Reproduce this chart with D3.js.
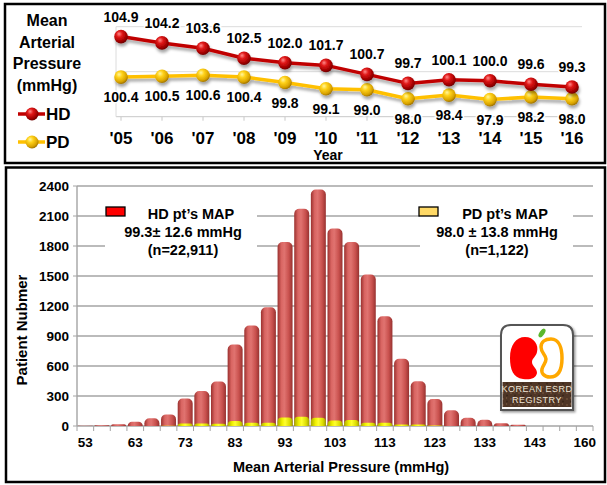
<!DOCTYPE html>
<html><head><meta charset="utf-8">
<script src="https://cdn.jsdelivr.net/npm/d3@7"></script>
<style>
html,body{margin:0;padding:0;background:#fff;}
svg{display:block;}
text{font-family:"Liberation Sans",Arial,sans-serif;font-weight:bold;fill:#000;}
</style></head><body>
<svg id="chart" width="607" height="485"></svg>
<script>
// Yearly mean arterial pressure (mmHg), HD vs PD
const years = ["'05","'06","'07","'08","'09","'10","'11","'12","'13","'14","'15","'16"];
const hdTrend = [104.9,104.2,103.6,102.5,102.0,101.7,100.7,99.7,100.1,100.0,99.6,99.3];
const pdTrend = [100.4,100.5,100.6,100.4,99.8,99.1,99.0,98.0,98.4,97.9,98.2,98.0];
const trendTicks = [96,101,106];

// Distribution of MAP (patients per bin)
const binLabels = ["53","","","63","","","73","","","83","","","93","","","103","","","113","","","123","","","133","","","143","","","160"];
const hdCounts = [2,7,18,42,78,116,274,350,445,815,1005,1188,1840,2172,2365,1975,1840,1515,1097,672,447,270,157,83,62,27,12,0,0,0,0];
const pdCounts = [0,0,0,0,0,3,24,24,22,50,33,33,85,92,82,56,60,33,32,15,15,4,0,0,0,0,0,0,0,0,0];
const countTicks = [0,300,600,900,1200,1500,1800,2100,2400];

const svg = d3.select("#chart");
const defs = svg.append("defs");

// ---------- shared paint ----------
function hGrad(id, stops){
  const g = defs.append("linearGradient").attr("id",id).attr("x1","0%").attr("x2","100%").attr("y1","0%").attr("y2","0%");
  stops.forEach(([o,c]) => g.append("stop").attr("offset",o).attr("stop-color",c));
}
function ball(id, stops){
  const g = defs.append("radialGradient").attr("id",id).attr("cx","40%").attr("cy","35%").attr("r","65%").attr("fx","35%").attr("fy","30%");
  stops.forEach(([o,c]) => g.append("stop").attr("offset",o).attr("stop-color",c));
}
hGrad("hdBar",[["0%","#9a302e"],["25%","#d96562"],["45%","#e07370"],["75%","#c9514e"],["100%","#973230"]]);
hGrad("pdBar",[["0%","#a8a800"],["30%","#f0f000"],["50%","#ffff30"],["80%","#dcdc00"],["100%","#a0a000"]]);
ball("hdBall",[["0%","#ff8a8a"],["35%","#e01818"],["80%","#a00000"],["100%","#700000"]]);
ball("pdBall",[["0%","#fff6a0"],["35%","#ffd21a"],["80%","#d9a300"],["100%","#a07400"]]);

const shadow = defs.append("filter").attr("id","lineShadow").attr("x","-10%").attr("y","-30%").attr("width","120%").attr("height","160%");
shadow.append("feDropShadow").attr("dx",1).attr("dy",3).attr("stdDeviation",1.6).attr("flood-color","#000").attr("flood-opacity",0.35);

const logoShadow = defs.append("filter").attr("id","logoShadow").attr("x","-20%").attr("y","-20%").attr("width","140%").attr("height","140%");
logoShadow.append("feDropShadow").attr("dx",1.5).attr("dy",1.5).attr("stdDeviation",1.2).attr("flood-color","#000").attr("flood-opacity",0.4);

// soil texture for the registry badge
const soil = defs.append("pattern").attr("id","soil").attr("patternUnits","userSpaceOnUse").attr("width",8).attr("height",6);
soil.append("rect").attr("width",8).attr("height",6).attr("fill","#4f3626");
soil.append("circle").attr("cx",2).attr("cy",2).attr("r",1.1).attr("fill","#6b4c36");
soil.append("circle").attr("cx",6).attr("cy",4.5).attr("r",1).attr("fill","#3a261a");
soil.append("circle").attr("cx",5.5).attr("cy",1).attr("r",0.7).attr("fill","#7a5a40");

svg.append("rect").attr("width",607).attr("height",485).attr("fill","#fff");

// ---------- panel frames ----------
svg.append("rect").attr("x",5).attr("y",4).attr("width",600).attr("height",159)
  .attr("fill","none").attr("stroke","#000").attr("stroke-width",2.5);
svg.append("rect").attr("x",6).attr("y",167.5).attr("width",599).attr("height",314.5)
  .attr("fill","none").attr("stroke","#000").attr("stroke-width",2.5);

// ================= top: yearly trend =================
const xT = d3.scalePoint().domain(years).range([121,572]);
const yT = d3.scaleLinear().domain([96,106]).range([116.7,26.7]);
const trendG = svg.append("g");

trendG.selectAll("line.grid").data(trendTicks).join("line").attr("class","grid")
  .attr("x1",116).attr("x2",582).attr("y1",d=>yT(d)).attr("y2",d=>yT(d))
  .attr("stroke",(d,i)=> i===0 ? "#c8c8c8" : "#dcdcdc").attr("stroke-width",1);
trendG.append("line").attr("x1",116).attr("x2",116).attr("y1",yT(106)).attr("y2",yT(96)).attr("stroke","#dcdcdc");
trendG.selectAll("line.tick").data(years).join("line").attr("class","tick")
  .attr("x1",d=>xT(d)).attr("x2",d=>xT(d)).attr("y1",yT(96)).attr("y2",yT(96)+4).attr("stroke","#c8c8c8");

const trendLine = d3.line().x((d,i)=>xT(years[i])).y(d=>yT(d));
const series = [
  {vals:pdTrend, color:"#ffc000", ball:"url(#pdBall)", below:true},
  {vals:hdTrend, color:"#c00000", ball:"url(#hdBall)", below:false}
];
series.forEach(s=>{
  const g = trendG.append("g").attr("filter","url(#lineShadow)");
  g.append("path").datum(s.vals).attr("d",trendLine).attr("fill","none")
    .attr("stroke",s.color).attr("stroke-width",3.5).attr("stroke-linejoin","round");
  g.selectAll("circle").data(s.vals).join("circle")
    .attr("cx",(d,i)=>xT(years[i])).attr("cy",d=>yT(d)).attr("r",6.8).attr("fill",s.ball);
});
series.forEach(s=>{
  trendG.selectAll(null).data(s.vals).join("text")
    .attr("x",(d,i)=>xT(years[i])).attr("y",d=> s.below ? yT(d)+25 : yT(d)-15)
    .attr("text-anchor","middle").style("font-size","14px")
    .attr("stroke","#fff").attr("stroke-width",3).attr("paint-order","stroke")
    .text(d=>d.toFixed(1));
});
trendG.selectAll("text.yr").data(years).join("text").attr("class","yr")
  .attr("x",d=>xT(d)).attr("y",144).attr("text-anchor","middle").style("font-size","17px").text(d=>d);
trendG.append("text").attr("x",328).attr("y",160).attr("text-anchor","middle").style("font-size","14px").text("Year");

const titleLines = ["Mean","Arterial","Pressure","(mmHg)"];
trendG.selectAll("text.ttl").data(titleLines).join("text").attr("class","ttl")
  .attr("x",47).attr("y",(d,i)=>26+i*21.7).attr("text-anchor","middle").style("font-size","16px").text(d=>d);

[{name:"HD",color:"#c00000",ball:"url(#hdBall)",y:114},{name:"PD",color:"#ffc000",ball:"url(#pdBall)",y:142}].forEach(l=>{
  const g = trendG.append("g");
  g.append("line").attr("x1",18).attr("x2",45).attr("y1",l.y).attr("y2",l.y).attr("stroke",l.color).attr("stroke-width",3.5);
  g.append("circle").attr("cx",32).attr("cy",l.y).attr("r",6.5).attr("fill",l.ball);
  g.append("text").attr("x",46).attr("y",l.y+6).style("font-size","17px").text(l.name);
});

// ================= bottom: distribution =================
const xB = d3.scaleBand().domain(d3.range(binLabels.length)).range([77,593]).paddingInner(0.1).paddingOuter(0.05);
const yB = d3.scaleLinear().domain([0,2400]).range([426,186]);
const bot = svg.append("g");

bot.selectAll("line.grid").data(countTicks.slice(1)).join("line").attr("class","grid")
  .attr("x1",77).attr("x2",593).attr("y1",d=>yB(d)).attr("y2",d=>yB(d))
  .attr("stroke","#a4a4a4").attr("stroke-width",1.4);
bot.append("line").attr("x1",77).attr("x2",77).attr("y1",yB(2400)).attr("y2",yB(0)).attr("stroke","#a4a4a4").attr("stroke-width",1.4);
bot.append("line").attr("x1",77).attr("x2",593).attr("y1",yB(0)).attr("y2",yB(0)).attr("stroke","#a4a4a4").attr("stroke-width",1.4);
bot.selectAll("line.ytick").data(countTicks).join("line").attr("class","ytick")
  .attr("x1",73).attr("x2",77).attr("y1",d=>yB(d)).attr("y2",d=>yB(d)).attr("stroke","#a4a4a4");
bot.selectAll("text.ylab").data(countTicks).join("text").attr("class","ylab")
  .attr("x",69).attr("y",d=>yB(d)+5).attr("text-anchor","end").style("font-size","13.5px").text(d=>d);

// tick marks at bin boundaries
const step = xB.step(), x0 = xB.range()[0];
bot.selectAll("line.xtick").data(d3.range(binLabels.length+1)).join("line").attr("class","xtick")
  .attr("x1",i=>x0+i*step).attr("x2",i=>x0+i*step).attr("y1",yB(0)).attr("y2",yB(0)+5).attr("stroke","#a4a4a4");
bot.selectAll("text.xlab").data(binLabels).join("text").attr("class","xlab")
  .attr("x",(d,i)=>xB(i)+xB.bandwidth()/2).attr("y",447).attr("text-anchor","middle").style("font-size","13.5px").text(d=>d);

bot.append("text").attr("x",341).attr("y",472).attr("text-anchor","middle").style("font-size","14.5px").text("Mean Arterial Pressure (mmHg)");
bot.append("text").attr("transform","translate(27,330) rotate(-90)").attr("text-anchor","middle").style("font-size","15px").text("Patient Nubmer");

// legend boxes (white behind text hides grid lines)
const legends = [
  {x:105,w:152,cx:183,sw:"#ff0000",lines:["HD pt\u2019s MAP","99.3\u00b1 12.6 mmHg","(n=22,911)"],mk:106},
  {x:420,w:153,cx:497,sw:"#ffd966",lines:["PD pt\u2019s MAP","98.0 \u00b1 13.8 mmHg","(n=1,122)"],mk:419}
];
legends.forEach(l=>{
  bot.append("rect").attr("x",l.x).attr("y",199).attr("width",l.w).attr("height",64).attr("fill","#fff");
  bot.append("rect").attr("x",l.mk).attr("y",207).attr("width",19).attr("height",9).attr("fill",l.sw).attr("stroke","#000").attr("stroke-width",1.3);
  bot.selectAll(null).data(l.lines).join("text").attr("x",(d,i)=> i===0 ? l.cx+8 : l.cx).attr("y",(d,i)=>219+i*18)
    .attr("text-anchor","middle").style("font-size","14.5px").text(d=>d);
});

// cylinder-like bars with a rounded cap
function capBar(x, w, yTop, yBase, r){
  const h = yBase - yTop;
  if (h <= 0) return null;
  const rr = Math.min(r, h, w/2);
  return `M${x},${yBase}V${yTop+rr}A${rr},${rr} 0 0 1 ${x+rr},${yTop}H${x+w-rr}A${rr},${rr} 0 0 1 ${x+w},${yTop+rr}V${yBase}Z`;
}
const bw = xB.bandwidth();
bot.selectAll("path.hd").data(hdCounts).join("path").attr("class","hd")
  .attr("d",(d,i)=>capBar(xB(i), bw, yB(d), yB(0), 5)).attr("fill","url(#hdBar)");
bot.selectAll("path.pd").data(pdCounts).join("path").attr("class","pd")
  .attr("d",(d,i)=>capBar(xB(i), bw, yB(d), yB(0), 4)).attr("fill","url(#pdBar)");

// registry badge
const logo = bot.append("g").attr("transform","translate(501,325)");
logo.append("path").attr("d","M0,85V10Q0,0 10,0H62Q72,0 72,10V85Z").attr("fill","#fff")
  .attr("stroke","#555").attr("stroke-width",2).attr("filter","url(#logoShadow)");
logo.append("rect").attr("x",1.5).attr("y",57).attr("width",69).attr("height",25).attr("fill","url(#soil)");
logo.append("path").attr("d","M24,12C33,12 38,20 36,27C35,32 31,33 31,37C31,41 36,43 36,48C35,54 28,55 22,54C12,53 9,44 9,33C9,20 15,12 24,12Z").attr("fill","#ff0000");
logo.append("path").attr("d","M50,14C58,14 61,23 61,33C61,45 57,52 49,52C43,52 40,48 41,44C42,40 45,38 45,34C45,30 40,28 40,22C40,17 44,14 50,14Z")
  .attr("fill","none").attr("stroke","#ffa800").attr("stroke-width",3.5);
logo.append("ellipse").attr("cx",0).attr("cy",0).attr("rx",2.4).attr("ry",5).attr("fill","#5cb82e").attr("transform","translate(41,8) rotate(35)");
logo.selectAll("text").data(["KOREAN ESRD","REGISTRY"]).join("text")
  .attr("x",36).attr("y",(d,i)=>67+i*11).attr("text-anchor","middle")
  .style("font-size","9px").style("font-weight","normal").style("fill","#efe6d8").style("letter-spacing","0.5px").text(d=>d);
</script>
</body></html>
